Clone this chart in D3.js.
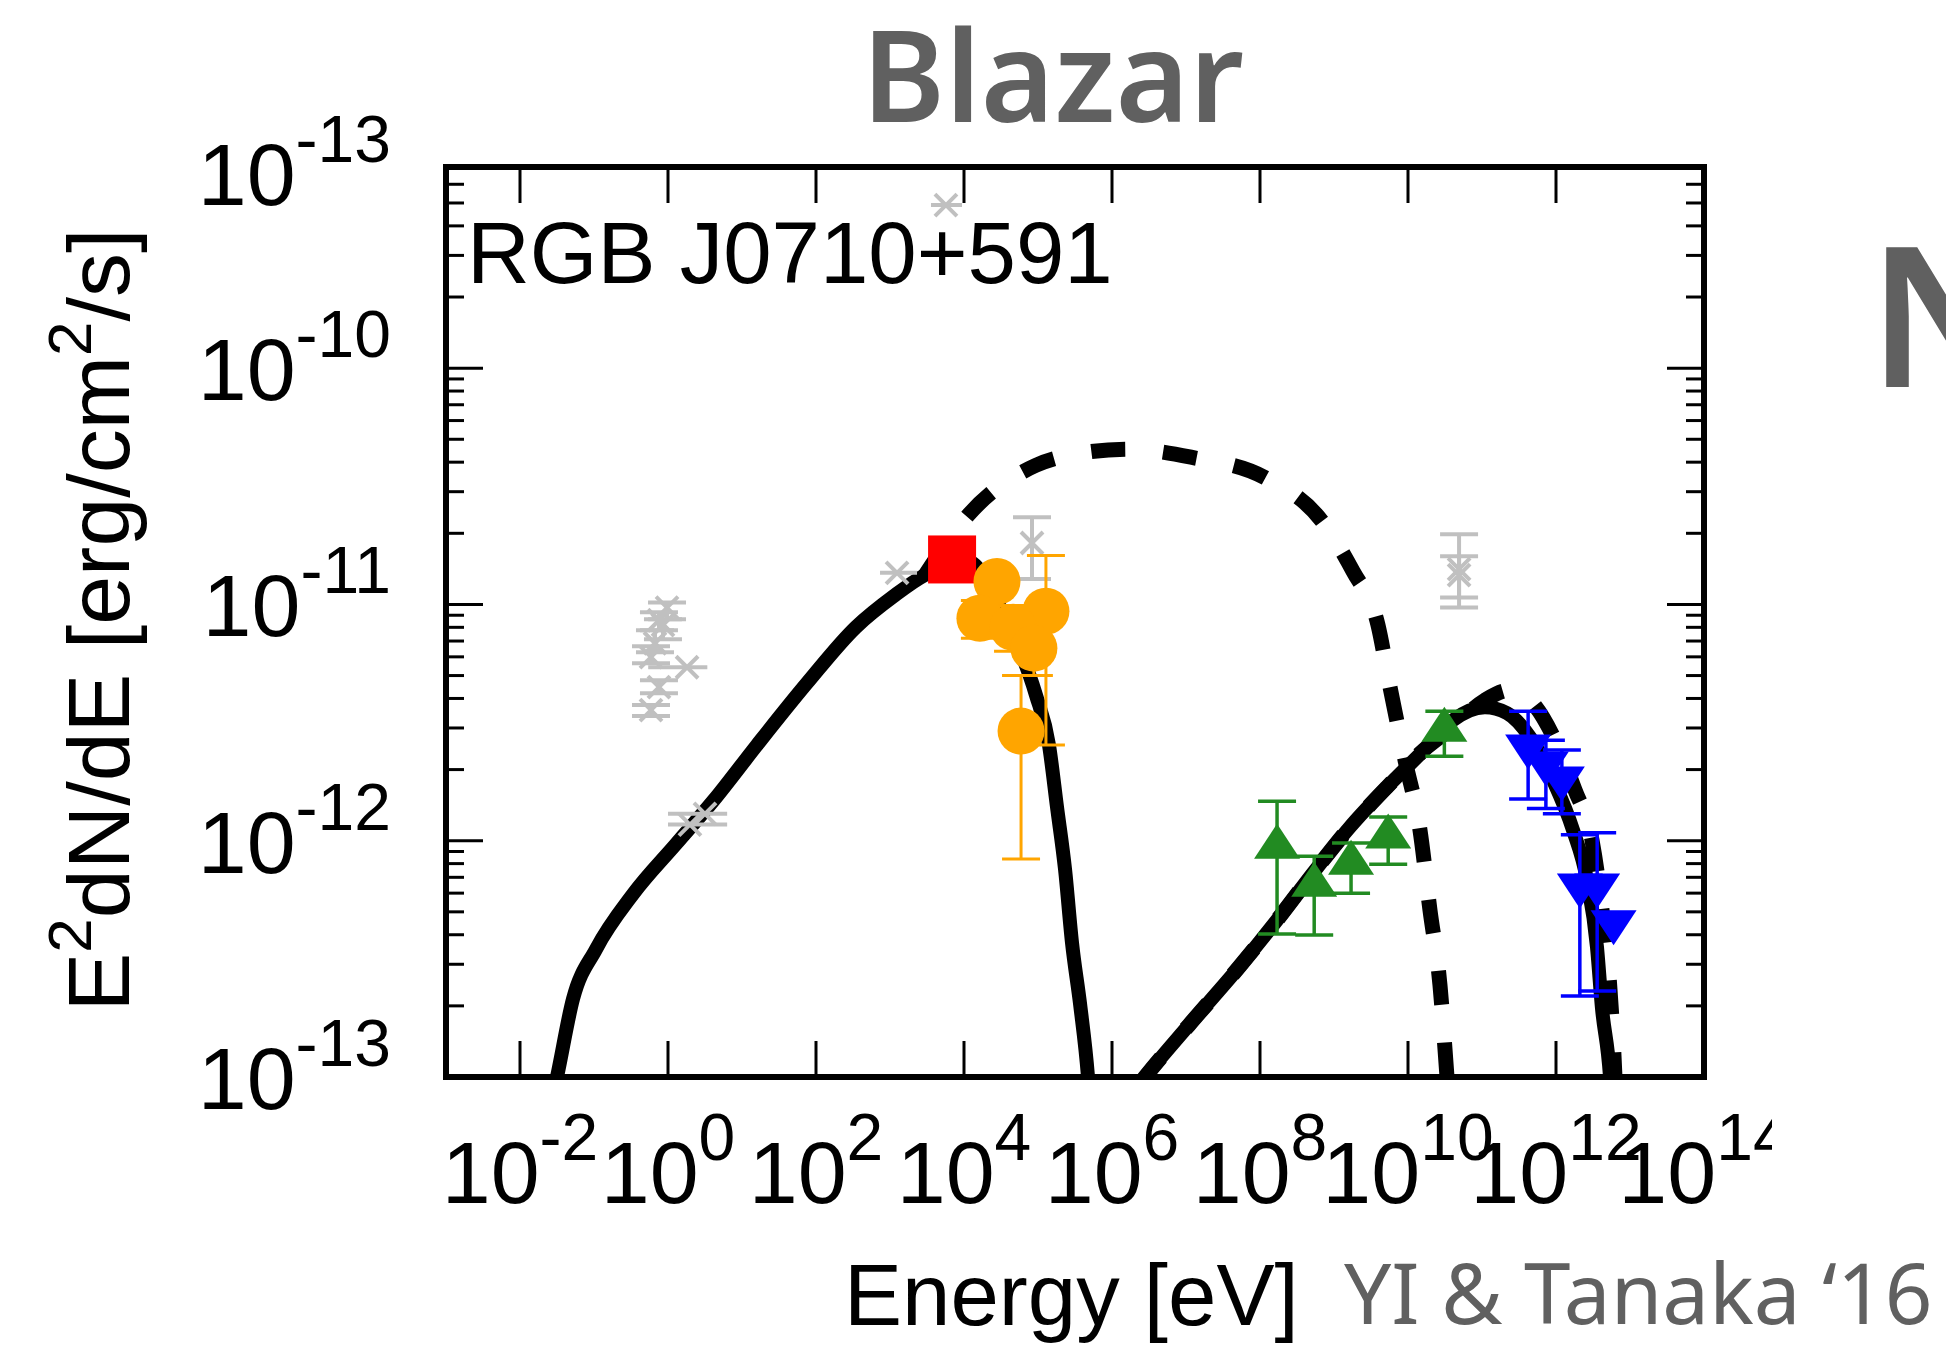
<!DOCTYPE html>
<html><head><meta charset="utf-8">
<script src="https://cdn.jsdelivr.net/npm/d3@7"></script>
<style>html,body{margin:0;padding:0;background:#fff;}svg{display:block;}</style>
</head><body>
<svg id="c" width="1946" height="1349"></svg>
<script>
// ---------- text ----------
const title = "Blazar";
const sourceName = "RGB J0710+591";
const xLabel = "Energy [eV]";
const credit = "YI & Tanaka \u201816";
const nextPanelLetter = "N";

// ---------- axes ----------
const xDomain = [1e-3, 1e14];
const yDomain = [1e-13, 7.1e-10];
const xTickExponents = [-2, 0, 2, 4, 6, 8, 10, 12, 14];
const yTickValues = [1e-13, 1e-12, 1e-11, 1e-10, 6.7e-10];
const yTickExponents = ["-13", "-12", "-11", "-10", "-13"];

// ---------- model curves: [log10(E/eV), log10(E^2 dN/dE)] ----------
const synchrotronCurve = [[-1.57,-13.1],[-1.50,-13.0],[-1.284,-12.67],[-0.973,-12.459],[-0.473,-12.226],[0.108,-12.014],[0.62,-11.828],[1.20,-11.596],[1.878,-11.333],[2.54,-11.096],[3.05,-10.965],[3.47,-10.876],[3.80,-10.834],[4.05,-10.817],[4.25,-10.87],[4.50,-11.02],[4.73,-11.173],[4.973,-11.384],[5.149,-11.596],[5.257,-11.858],[5.365,-12.12],[5.46,-12.433],[5.57,-12.695],[5.676,-13.0],[5.70,-13.1]];
const inverseComptonCurve = [[6.37,-13.03],[6.446,-13.0],[7.04,-12.78],[7.73,-12.53],[8.23,-12.336],[8.716,-12.137],[9.216,-11.942],[9.716,-11.773],[10.257,-11.604],[10.608,-11.49],[11.04,-11.435],[11.338,-11.46],[11.649,-11.562],[11.96,-11.744],[12.23,-11.955],[12.42,-12.167],[12.554,-12.45],[12.62,-12.704],[12.73,-13.0],[12.75,-13.1]];
const externalDashedCurve = [[3.473,-10.876],[4.054,-10.623],[4.973,-10.411],[5.568,-10.360],[6.23,-10.343],[7.068,-10.377],[8.081,-10.466],[8.838,-10.648],[9.257,-10.860],[9.595,-11.088],[9.757,-11.35],[9.96,-11.659],[10.162,-11.955],[10.297,-12.294],[10.432,-12.611],[10.527,-13.0],[10.55,-13.1]];
const comptonDashedCurve = [[6.37,-13.03],[6.446,-13.0],[7.04,-12.78],[7.73,-12.53],[8.23,-12.336],[8.716,-12.137],[9.216,-11.942],[9.716,-11.773],[10.257,-11.604],[10.608,-11.519],[11.04,-11.405],[11.378,-11.363],[11.649,-11.405],[11.986,-11.574],[12.257,-11.786],[12.486,-11.997],[12.622,-12.294],[12.73,-12.632],[12.797,-13.0],[12.81,-13.1]];

// ---------- data points ----------
// archival (gray): [E, F, Flo, Fhi, Elo, Ehi]
const archivalPoints = [
  [0.97, 9.7e-12, 8.66e-12, 1.02e-11, null, null],
  [0.755, 8.57e-12, 7.78e-12, 9.27e-12, null, null],
  [0.855, 8.17e-12, 7.12e-12, 8.66e-12, null, null],
  [0.667, 6.85e-12, 6.28e-12, 7.78e-12, null, null],
  [0.589, 5.98e-12, 5.64e-12, 6.66e-12, null, null],
  [1.81, 5.42e-12, null, null, 0.54, 3.4],
  [0.755, 4.47e-12, 4.21e-12, 4.78e-12, null, null],
  [0.589, 3.57e-12, 3.37e-12, 3.75e-12, null, null],
  [1.98, 1.17e-12, null, null, 1.0, 6.3],
  [3.16, 1.3e-12, null, null, 1.0, 6.3],
  [1245, 1.36e-11, null, null, 733, 2318],
  [5.7e3, 4.9e-10, null, null, 3580, 9400],
  [8.3e4, 1.82e-11, 1.28e-11, 2.34e-11, null, null],
  [4.9e10, 1.41e-11, 9.7e-12, 1.98e-11, null, null],
  [4.9e10, 1.33e-11, 1.07e-11, 1.6e-11, null, null]
];
// optical (red square): [E, F]
const opticalPoints = [[6.9e3, 1.55e-11]];
// X-ray (orange): [E, F, Flo, Fhi]
const xrayPoints = [
  [2.79e4, 1.25e-11, 1.18e-11, 1.32e-11],
  [1.64e4, 8.74e-12, 7.2e-12, 1.04e-11],
  [1.28e5, 9.36e-12, 2.54e-12, 1.61e-11],
  [4.6e4, 8.0e-12, 6.34e-12, 9.9e-12],
  [8.8e4, 6.53e-12, 5.0e-12, 8.2e-12],
  [5.9e4, 2.91e-12, 8.36e-13, 5.0e-12]
];
// Fermi-LAT (green): [E, F, Flo, Fhi]
const latPoints = [
  [1.7e8, 9.4e-13, 4.03e-13, 1.47e-12],
  [5.4e8, 6.49e-13, 3.99e-13, 8.6e-13],
  [1.7e9, 8.04e-13, 6.0e-13, 9.77e-13],
  [5.4e9, 1.04e-12, 7.96e-13, 1.26e-12],
  [3.1e10, 2.94e-12, 2.28e-12, 3.53e-12]
];
// VERITAS (blue): [E, F, Flo, Fhi]
const tevPoints = [
  [4.2e11, 2.51e-12, 1.5e-12, 3.53e-12],
  [7.3e11, 2.13e-12, 1.37e-12, 2.66e-12],
  [1.2e12, 1.84e-12, 1.30e-12, 2.42e-12],
  [2.1e12, 6.49e-13, 2.2e-13, 1.06e-12],
  [3.6e12, 6.49e-13, 2.31e-13, 1.08e-12],
  [6.0e12, 4.53e-13, null, null]
];

// ---------- drawing ----------
const svg = d3.select("#c");
const X0 = 446, X1 = 1704, Y0 = 167, Y1 = 1077;
const x = d3.scaleLog().domain(xDomain).range([X0, X1]);
const y = d3.scaleLog().domain(yDomain).range([Y1, Y0]);
const AR = "Liberation Sans, Arial, Helvetica, sans-serif";
const NS = "Noto Sans, Open Sans, sans-serif";
const GRAYTXT = "#606060";

svg.append("rect").attr("width",1946).attr("height",1349).attr("fill","#fff");
const defs = svg.append("defs");
defs.append("clipPath").attr("id","plot")
  .append("rect").attr("x",X0).attr("y",Y0).attr("width",X1-X0).attr("height",Y1-Y0);
defs.append("clipPath").attr("id","figure")
  .append("rect").attr("x",0).attr("y",0).attr("width",1772).attr("height",1240);

const plot = svg.append("g").attr("clip-path","url(#plot)");
const line = d3.line().x(d => x(Math.pow(10,d[0]))).y(d => y(Math.pow(10,d[1]))).curve(d3.curveMonotoneX);

plot.append("path").attr("d", line(synchrotronCurve)).attr("fill","none").attr("stroke","#000").attr("stroke-width",14);
plot.append("path").attr("d", line(inverseComptonCurve)).attr("fill","none").attr("stroke","#000").attr("stroke-width",14);
plot.append("path").attr("d", line(externalDashedCurve)).attr("fill","none").attr("stroke","#000").attr("stroke-width",15).attr("stroke-dasharray","34,38");
plot.append("path").attr("d", line(comptonDashedCurve)).attr("fill","none").attr("stroke","#000").attr("stroke-width",15).attr("stroke-dasharray","34,38");

function errorBars(sel, pts, color, sw, cap) {
  pts.forEach(p => {
    if (p[2] != null) {
      const cx = x(p[0]);
      sel.append("line").attr("x1",cx).attr("x2",cx).attr("y1",y(p[2])).attr("y2",y(p[3])).attr("stroke",color).attr("stroke-width",sw);
      [p[2],p[3]].forEach(v => sel.append("line").attr("x1",cx-cap/2).attr("x2",cx+cap/2).attr("y1",y(v)).attr("y2",y(v)).attr("stroke",color).attr("stroke-width",sw));
    }
    if (p.length > 4 && p[4] != null) {
      sel.append("line").attr("x1",x(p[4])).attr("x2",x(p[5])).attr("y1",y(p[1])).attr("y2",y(p[1])).attr("stroke",color).attr("stroke-width",sw);
    }
  });
}

// archival gray
const gG = plot.append("g");
errorBars(gG, archivalPoints, "#c0c0c0", 4, 38);
archivalPoints.forEach(p => {
  const cx = x(p[0]), cy = y(p[1]), s = 11;
  gG.append("path").attr("d",`M${cx-s},${cy-s}L${cx+s},${cy+s}M${cx-s},${cy+s}L${cx+s},${cy-s}`).attr("stroke","#c0c0c0").attr("stroke-width",4);
});

// optical red square
opticalPoints.forEach(p => {
  plot.append("rect").attr("x",x(p[0])-24).attr("y",y(p[1])-24).attr("width",48).attr("height",48).attr("fill","#ff0000");
});

// X-ray orange
const gO = plot.append("g");
errorBars(gO, xrayPoints, "#ffa500", 3, 38);
xrayPoints.forEach(p => gO.append("circle").attr("cx",x(p[0])).attr("cy",y(p[1])).attr("r",23.5).attr("fill","#ffa500"));

// LAT green
const gL = plot.append("g");
errorBars(gL, latPoints, "#228b22", 3.5, 38);
latPoints.forEach(p => {
  const cx = x(p[0]), cy = y(p[1]);
  gL.append("path").attr("d",`M${cx},${cy-23.3}L${cx+23},${cy+11.7}L${cx-23},${cy+11.7}Z`).attr("fill","#228b22");
});

// TeV blue
const gT = plot.append("g");
errorBars(gT, tevPoints, "#0000ff", 3.5, 38);
tevPoints.forEach(p => {
  const cx = x(p[0]), cy = y(p[1]);
  gT.append("path").attr("d",`M${cx},${cy+23.3}L${cx+23},${cy-11.7}L${cx-23},${cy-11.7}Z`).attr("fill","#0000ff");
});

// ---------- frame & ticks ----------
const ax = svg.append("g").attr("stroke","#000");
xTickExponents.forEach(e => {
  const tx = x(Math.pow(10,e));
  if (tx < X1 - 2) {
    ax.append("line").attr("x1",tx).attr("x2",tx).attr("y1",Y1).attr("y2",Y1-36).attr("stroke-width",3);
    ax.append("line").attr("x1",tx).attr("x2",tx).attr("y1",Y0).attr("y2",Y0+36).attr("stroke-width",3);
  }
});
for (let d = -13; d <= -10; d++) {
  for (let m = 1; m <= 9; m++) {
    const v = m * Math.pow(10, d);
    if (v < yDomain[0] * 1.0001 || v > yDomain[1]) continue;
    const ty = y(v), len = m === 1 ? 37 : 18;
    ax.append("line").attr("x1",X0).attr("x2",X0+len).attr("y1",ty).attr("y2",ty).attr("stroke-width",3);
    ax.append("line").attr("x1",X1).attr("x2",X1-len).attr("y1",ty).attr("y2",ty).attr("stroke-width",3);
  }
}
svg.append("rect").attr("x",X0).attr("y",Y0).attr("width",X1-X0).attr("height",Y1-Y0)
  .attr("fill","none").attr("stroke","#000").attr("stroke-width",6);

// tick labels (the figure image is cropped at its right edge)
const labels = svg.append("g").attr("clip-path","url(#figure)");
xTickExponents.forEach(e => {
  const t = labels.append("text").attr("x", x(Math.pow(10,e))).attr("y", 1203)
    .attr("text-anchor","middle").attr("font-family",AR).attr("fill","#000");
  t.append("tspan").attr("font-size",88).text("10");
  t.append("tspan").attr("font-size",66).attr("dy",-43).text(String(e));
});
yTickValues.forEach((v,i) => {
  const t = labels.append("text").attr("x", 391).attr("y", y(v) + 32)
    .attr("text-anchor","end").attr("font-family",AR).attr("fill","#000");
  t.append("tspan").attr("font-size",88).text("10");
  t.append("tspan").attr("font-size",66).attr("dy",-43).text(yTickExponents[i]);
});

// axis titles
const yt = svg.append("text").attr("transform","translate(129,620) rotate(-90)")
  .attr("text-anchor","middle").attr("font-family",AR).attr("font-size",88).attr("fill","#000");
yt.append("tspan").text("E");
yt.append("tspan").attr("font-size",62).attr("dy",-38).text("2");
yt.append("tspan").attr("dy",38).text("dN/dE [erg/cm");
yt.append("tspan").attr("font-size",62).attr("dy",-38).text("2");
yt.append("tspan").attr("dy",38).text("/s]");

svg.append("text").attr("x",844).attr("y",1325).attr("font-family",AR).attr("font-size",87).attr("fill","#000").text(xLabel);
svg.append("text").attr("x",1344).attr("y",1324).attr("font-family",NS).attr("font-size",83.5).attr("fill",GRAYTXT).text(credit);
svg.append("text").attr("x",467).attr("y",283).attr("font-family",AR).attr("font-size",87).attr("fill","#000").text(sourceName);
svg.append("text").attr("x",1053).attr("y",122).attr("text-anchor","middle").attr("font-family",NS).attr("font-weight",600).attr("font-size",126).attr("fill",GRAYTXT).text(title);
svg.append("text").attr("x",1868).attr("y",387).attr("font-family",NS).attr("font-weight",600).attr("font-size",196).attr("fill",GRAYTXT).text(nextPanelLetter);
</script>
</body></html>
